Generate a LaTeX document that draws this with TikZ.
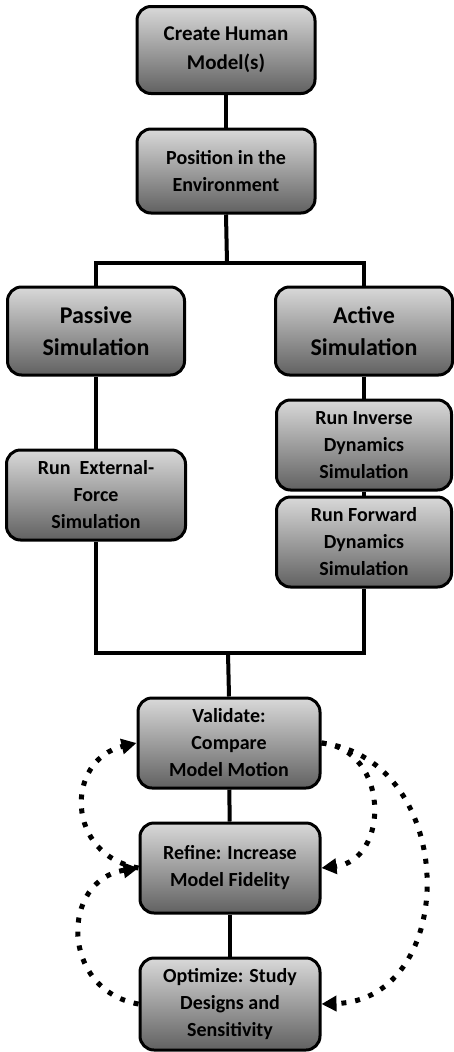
\documentclass[tikz,border=0pt]{standalone}
\usepackage{fontspec}
\setmainfont{Carlito}
\usetikzlibrary{arrows.meta,shadings}
\begin{document}
\begin{tikzpicture}[x=1pt,y=-1pt,
  box/.style={draw=black,line width=3pt,rounded corners=14pt,top color=black!15,bottom color=black!62,
    align=center,inner sep=2pt,font=\fontsize{20}{27}\selectfont\bfseries,text=black},
  conn/.style={line width=4pt,black},
  dots/.style={line width=5pt,dash pattern=on 5pt off 9pt,black,
    -{Triangle[length=15pt,width=15pt]}}]
\useasboundingbox (0,0) rectangle (453,1052);
\node[box,minimum width=178pt,minimum height=87pt,font=\fontsize{21}{29}\selectfont\bfseries] (create) at (226,50) {Create Human\\Model(s)};
\node[box,minimum width=178pt,minimum height=84pt] (pos) at (226,171) {Position in the\\Environment};
\node[box,minimum width=177pt,minimum height=88pt,font=\fontsize{24}{32}\selectfont\bfseries] (passive) at (96,331) {Passive\\Simulation};
\node[box,minimum width=177pt,minimum height=88pt,font=\fontsize{24}{32}\selectfont\bfseries] (active) at (364,331) {Active\\Simulation};
\node[box,minimum width=179pt,minimum height=90pt] (extf) at (96,495) {Run\ \ External-\\Force\\Simulation};
\node[box,minimum width=175pt,minimum height=90pt] (inv) at (364,445) {Run Inverse\\Dynamics\\Simulation};
\node[box,minimum width=175pt,minimum height=90pt] (fwd) at (364,542) {Run Forward\\Dynamics\\Simulation};
\node[box,minimum width=182pt,minimum height=90pt] (val) at (229,743) {Validate:\\Compare\\Model Motion};
\node[box,minimum width=180pt,minimum height=90pt] (ref) at (230,868) {Refine: Increase\\Model Fidelity};
\node[box,minimum width=180pt,minimum height=92pt] (opt) at (230,1004) {Optimize: Study\\Designs and\\Sensitivity};
\coordinate (split) at (227,263);
\coordinate (merge) at (228,653);
\draw[conn] (create) -- (pos);
\draw[conn] (pos.south) -- (split);
\draw[conn] (passive.north) |- (split) -| (active.north);
\draw[conn] (passive) -- (extf);
\draw[conn] (active) -- (inv);
\draw[conn] (inv) -- (fwd);
\draw[conn] (extf.south) |- (merge) -| (fwd.south);
\draw[conn] (merge) -- (val.north);
\draw[conn] (val) -- (ref);
\draw[conn] (ref) -- (opt);
\draw[dots] (ref.west) .. controls (65,855) and (65,760) .. (val.west);
\draw[dots] (opt.west) .. controls (60,990) and (60,880) .. (ref.west);
\draw[dots] (val.east) .. controls (390,750) and (390,860) .. (ref.east);
\draw[dots] (val.east) .. controls (460,760) and (460,1000) .. (opt.east);
\end{tikzpicture}
\end{document}
